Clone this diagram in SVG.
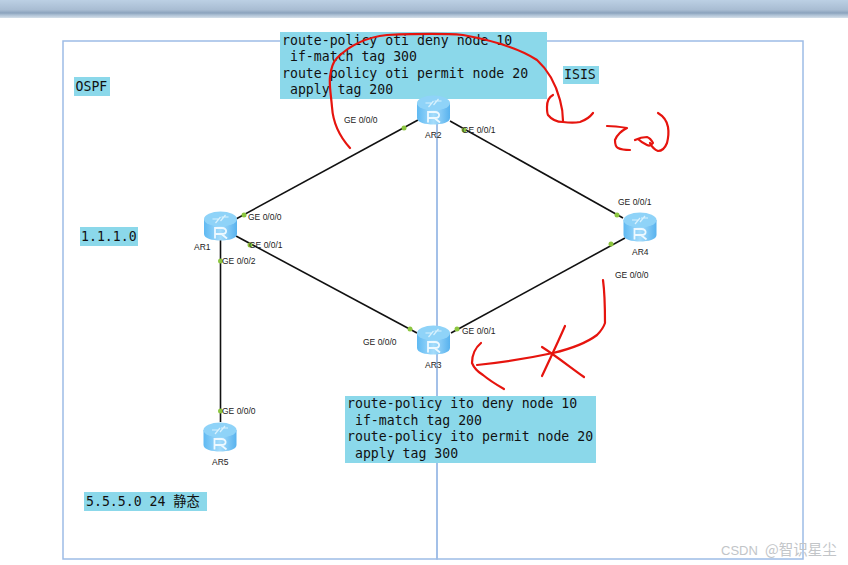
<svg xmlns="http://www.w3.org/2000/svg" width="848" height="565" viewBox="0 0 848 565">
<style>
.area{fill:none;stroke:#9dbce6;stroke-width:1.5}
.box{fill:#8bd8ea}
.mono{font-family:"DejaVu Sans Mono","Liberation Mono",monospace;font-size:13.2px;fill:#111}
.small{font-family:"Liberation Sans",Arial,sans-serif;font-size:8.5px;fill:#222}
.link{stroke:#111;stroke-width:1.6;fill:none}
.dot{fill:#8cc63f}
.ink{fill:none;stroke:#e6140e;stroke-width:2.200;stroke-linecap:round;stroke-linejoin:round}
</style>
<defs>
<linearGradient id="bar" x1="0" y1="0" x2="0" y2="1">
<stop offset="0" stop-color="#bcd0e4"/><stop offset="0.55" stop-color="#a8bcd2"/><stop offset="0.72" stop-color="#8ba3bd"/><stop offset="0.82" stop-color="#a9bdd2"/><stop offset="1" stop-color="#d5e0ea"/>
</linearGradient>
<linearGradient id="body" x1="0" y1="0" x2="1" y2="0">
<stop offset="0" stop-color="#5fb9f2"/><stop offset="0.5" stop-color="#a5dcfb"/><stop offset="1" stop-color="#58b2ee"/>
</linearGradient>
<g id="router">
<path d="M-16.500-7V8C-16.500 12.500-8 14.500 0 14.500S16.500 12.500 16.500 8V-7Z" fill="url(#body)"/>
<ellipse cx="0" cy="-7" rx="16.500" ry="7.500" fill="#8fd3f8"/>
<path d="M-8-7H-1M1-9H8M-5-3 0-9M0-5 5-11" stroke="#d8f1fd" stroke-width="1.200" fill="none"/>
<path d="M-5.500 12.500V2H1.500C7 2 7 8 1.500 8H-5.500M1 8 6.500 12.500" stroke="#eef9ff" stroke-width="1.800" fill="none"/>
</g>
</defs>
<rect x="0" y="0" width="848" height="18" fill="url(#bar)"/>
<rect class="area" x="63" y="41" width="374" height="518"/>
<rect class="area" x="437" y="41" width="366" height="518"/>
<g id="connectors">
<path class="link" d="M236 219 418 120"/>
<path class="link" d="M450 121 623 218"/>
<path class="link" d="M236 236 417 333"/>
<path class="link" d="M451 333 625 238"/>
<path class="link" d="M220.500 240V422"/>
<circle class="dot" cx="244" cy="215" r="2.500"/><circle class="dot" cx="404" cy="128" r="2.500"/>
<circle class="dot" cx="464" cy="130" r="2.500"/><circle class="dot" cx="617" cy="215" r="2.500"/>
<circle class="dot" cx="250" cy="245" r="2.500"/><circle class="dot" cx="410" cy="329" r="2.500"/>
<circle class="dot" cx="457" cy="329" r="2.500"/><circle class="dot" cx="611" cy="244" r="2.500"/>
<circle class="dot" cx="220.500" cy="261" r="2.500"/><circle class="dot" cx="220.500" cy="411" r="2.500"/>
</g>
<g id="label-ospf"><rect class="box" x="74" y="77" width="36" height="19"/><text class="mono" x="75.500" y="91">OSPF</text></g>
<g id="label-isis"><rect class="box" x="563" y="66" width="36" height="18"/><text class="mono" x="564" y="79">ISIS</text></g>
<g id="label-net1"><rect class="box" x="80" y="227" width="58" height="19"/><text class="mono" x="81" y="241">1.1.1.0</text></g>
<g id="label-net5"><rect class="box" x="84" y="492" width="123" height="19"/><text class="mono" x="86" y="506" xml:space="preserve">5.5.5.0 24 <tspan font-family="Noto Sans CJK SC,sans-serif">静态</tspan></text></g>
<g id="policy-oti">
<rect class="box" x="280" y="32" width="267" height="67"/>
<text class="mono" x="282" y="45" xml:space="preserve">route-policy oti deny node 10</text>
<text class="mono" x="282" y="61" xml:space="preserve"> if-match tag 300</text>
<text class="mono" x="282" y="78" xml:space="preserve">route-policy oti permit node 20</text>
<text class="mono" x="282" y="94" xml:space="preserve"> apply tag 200</text>
</g>
<g id="policy-ito">
<rect class="box" x="345" y="396" width="251" height="67"/>
<text class="mono" x="347" y="408" xml:space="preserve">route-policy ito deny node 10</text>
<text class="mono" x="347" y="425" xml:space="preserve"> if-match tag 200</text>
<text class="mono" x="347" y="441" xml:space="preserve">route-policy ito permit node 20</text>
<text class="mono" x="347" y="458" xml:space="preserve"> apply tag 300</text>
</g>
<g id="AR1"><use href="#router" x="220.500" y="226"/><text class="small" x="194" y="250">AR1</text></g>
<g id="AR2"><use href="#router" x="433.500" y="110"/><text class="small" x="425" y="138">AR2</text></g>
<g id="AR3"><use href="#router" x="433.500" y="340"/><text class="small" x="425" y="368">AR3</text></g>
<g id="AR4"><use href="#router" x="640" y="227"/><text class="small" x="632" y="255">AR4</text></g>
<g id="AR5"><use href="#router" x="220" y="437"/><text class="small" x="212" y="465">AR5</text></g>
<g id="port-labels">
<text class="small" x="344" y="123">GE 0/0/0</text>
<text class="small" x="462" y="133">GE 0/0/1</text>
<text class="small" x="248" y="220">GE 0/0/0</text>
<text class="small" x="249" y="248">GE 0/0/1</text>
<text class="small" x="222" y="264">GE 0/0/2</text>
<text class="small" x="222" y="414">GE 0/0/0</text>
<text class="small" x="618" y="205">GE 0/0/1</text>
<text class="small" x="615" y="278">GE 0/0/0</text>
<text class="small" x="363" y="345">GE 0/0/0</text>
<text class="small" x="462" y="334">GE 0/0/1</text>
</g>
<g id="annotations">
<path class="ink" d="M350 148C340 137 333 122 332 107C331 95 329 85 330 77C331 68 333 62 337 58C350 45 368 37 387 35C410 34 440 33 463 35C485 39 517 47 537 60C548 70 556 85 560 100C562 107 563 114 563 121"/>
<path class="ink" d="M553 95C549 97 547 102 547 107C547 111 547 113 548 115C552 120 558 122 563 122C570 123 575 123 580 122C586 120 590 117 593 113"/>
<path class="ink" d="M607 126C613 126 621 127 627 128C621 131 617 135 615 140C615 144 616 147 618 148C622 150 626 150 630 150"/>
<path class="ink" d="M635 140C639 138 643 137 647 137C650 138 652 141 653 143C651 146 649 146 647 145C643 143 640 141 638 139M658 113C663 116 667 121 668 127C669 133 668 139 667 143C665 148 662 151 658 151C655 150 652 147 650 143"/>
<path class="ink" d="M603 280C605 295 605 310 605 323C603 329 600 332 597 335C585 344 570 349 553 353C530 358 505 362 477 365"/>
<path class="ink" d="M481 343C475 348 472 356 472 363C474 368 478 372 483 375C489 380 497 385 504 389"/>
<path class="ink" d="M565 326C558 342 550 359 542 376M542 347C556 356 570 367 584 377"/>
</g>
<g id="watermark" fill="#c2c5c8"><text x="721" y="555" font-family="Liberation Sans,sans-serif" font-size="13">CSDN</text><text x="765" y="555" font-family="Noto Sans CJK SC,sans-serif" font-size="14.500">@智识星尘</text></g>
</svg>
